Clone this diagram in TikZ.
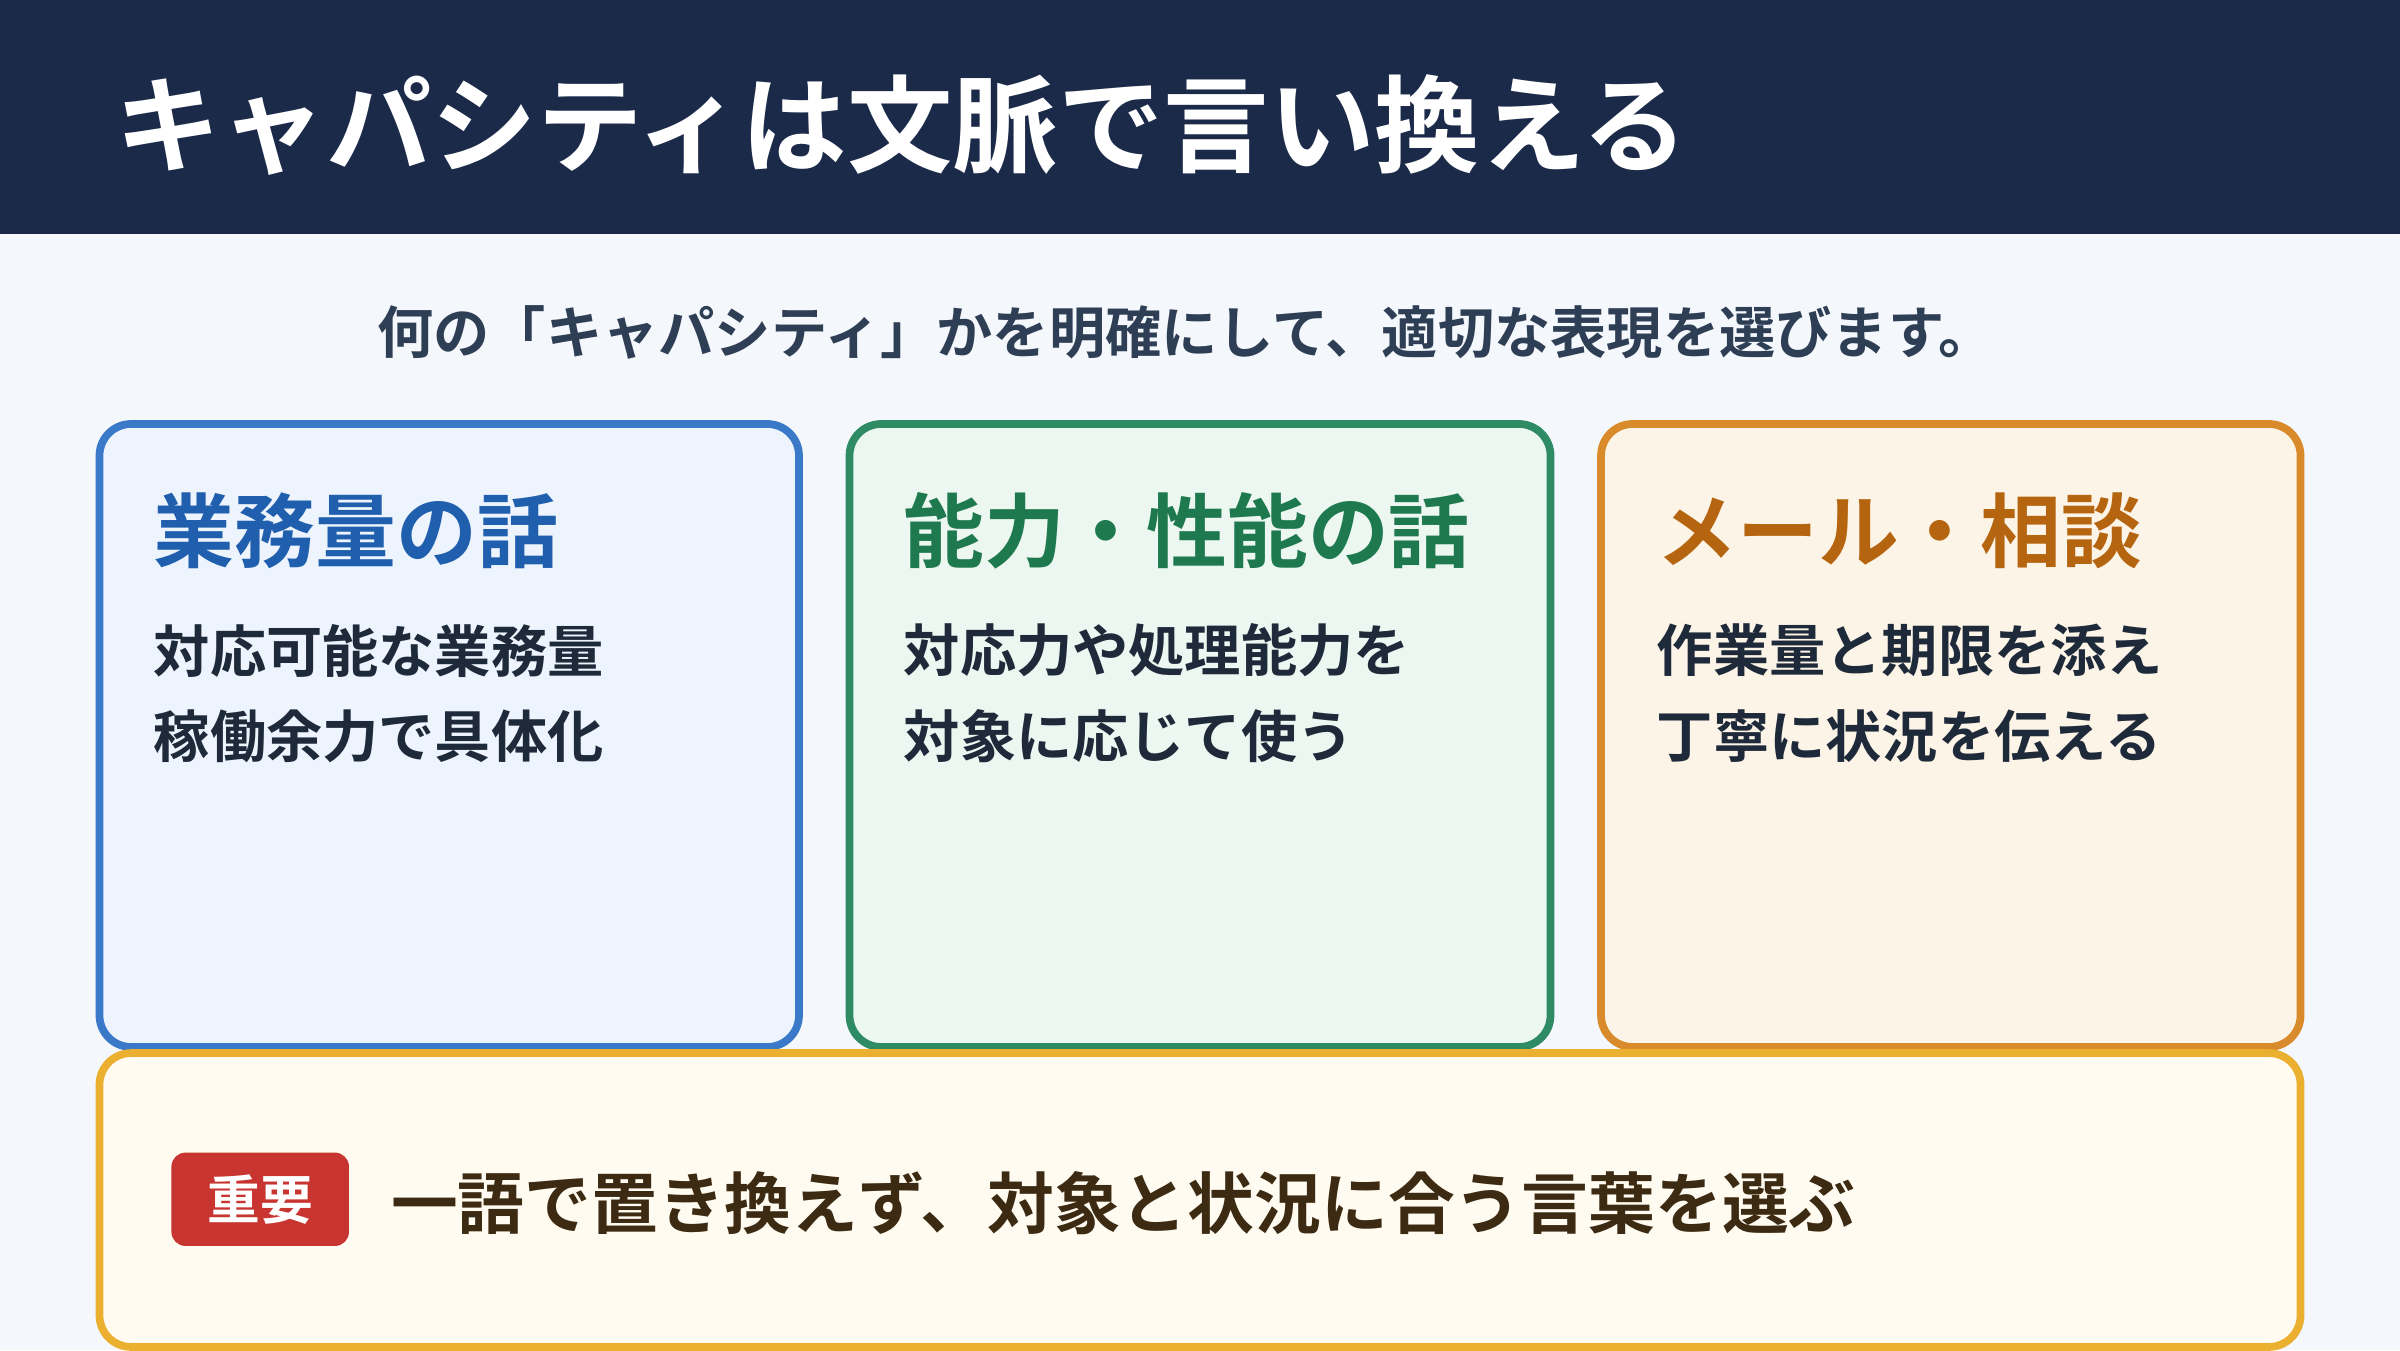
\documentclass[tikz,border=0pt]{standalone}
\usepackage{fontspec}
\setmainfont{Noto Sans CJK JP}
\newfontfamily\jpb{Noto Sans CJK JP}[BoldFont={* Bold}]
\definecolor{navy}{HTML}{1C2A4A}
\definecolor{bg}{HTML}{F4F7FB}
\definecolor{sub}{HTML}{2E3E55}
\definecolor{bB}{HTML}{3A78C8}\definecolor{fB}{HTML}{EDF4FD}\definecolor{tB}{HTML}{1F5FAE}
\definecolor{bG}{HTML}{2E8B64}\definecolor{fG}{HTML}{EDF7F1}\definecolor{tG}{HTML}{1E7A4E}
\definecolor{bO}{HTML}{D98A2B}\definecolor{fO}{HTML}{FDF4E8}\definecolor{tO}{HTML}{B5650F}
\definecolor{body}{HTML}{1E2A3A}
\definecolor{bY}{HTML}{EBB030}\definecolor{fY}{HTML}{FFFBF1}
\definecolor{red}{HTML}{C8342F}\definecolor{brn}{HTML}{3D2A12}
\begin{document}
\begin{tikzpicture}[x=0.015306cm,y=-0.015306cm,
 card/.style={line width=2.2pt,rounded corners=9pt},
 head/.style={anchor=west,inner sep=0,font=\jpb\bfseries\fontsize{23}{26}\selectfont},
 bodyt/.style={anchor=west,inner sep=0,text=body,font=\jpb\bfseries\fontsize{16}{19}\selectfont}]
\useasboundingbox (0,0) rectangle (1568,882);
\fill[bg] (0,0) rectangle (1568,882);
\fill[navy] (0,0) rectangle (1568,153);
\node[anchor=west,inner sep=0,text=white,font=\jpb\bfseries\fontsize{30}{34}\selectfont] (title) at (75,82) {キャパシティは文脈で言い換える};
\node[inner sep=0,text=sub,font=\jpb\bfseries\fontsize{16}{19}\selectfont] (subt) at (775,217) {何の「キャパシティ」かを明確にして、適切な表現を選びます。};
\draw[card,draw=bB,fill=fB] (65,277) rectangle (522,684);
\draw[card,draw=bG,fill=fG] (555,277) rectangle (1013,684);
\draw[card,draw=bO,fill=fO] (1046,277) rectangle (1503,684);
\node[head,text=tB] (h1) at (100,347) {業務量の話};
\node[head,text=tG] (h2) at (590,347) {能力・性能の話};
\node[head,text=tO] (h3) at (1082,347) {メール・相談};
\node[bodyt] (a1) at (100,425) {対応可能な業務量};
\node[bodyt] (a2) at (100,481) {稼働余力で具体化};
\node[bodyt] (b1) at (590,425) {対応力や処理能力を};
\node[bodyt] (b2) at (590,481) {対象に応じて使う};
\node[bodyt] (c1) at (1082,425) {作業量と期限を添え};
\node[bodyt] (c2) at (1082,481) {丁寧に状況を伝える};
\draw[card,draw=bY,fill=fY] (65,688) rectangle (1503,880);
\fill[red,rounded corners=4pt] (112,753) rectangle (228,814);
\node[text=white,inner sep=0,font=\jpb\bfseries\fontsize{15}{18}\selectfont] (badge) at (170,784) {重要};
\node[anchor=west,inner sep=0,text=brn,font=\jpb\bfseries\fontsize{19}{22}\selectfont] (msg) at (255,786) {一語で置き換えず、対象と状況に合う言葉を選ぶ};
\end{tikzpicture}
\end{document}
